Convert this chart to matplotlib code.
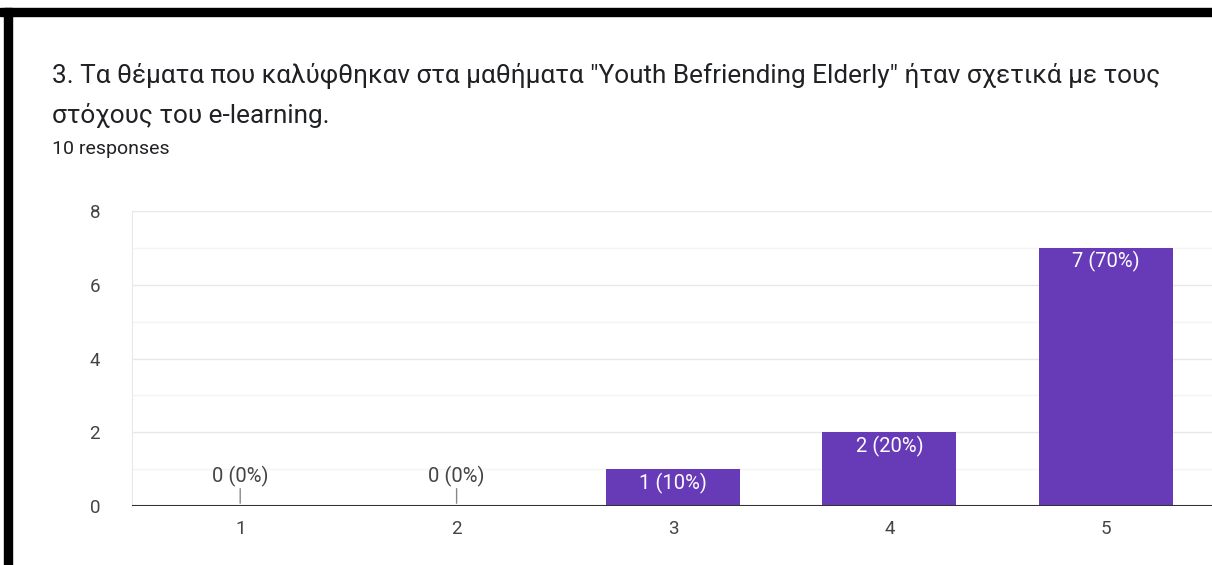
import matplotlib
matplotlib.use("Agg")
import matplotlib.pyplot as plt
from matplotlib.patches import Rectangle

# survey answers
categories = [1, 2, 3, 4, 5]
counts = [0, 0, 1, 2, 7]
total = 10
y_ticks = [0, 2, 4, 6, 8]

title_lines = ['3. Τα θέματα που καλύφθηκαν στα μαθήματα "Youth Befriending Elderly" ήταν σχετικά με τους',
               'στόχους του e-learning.']
subtitle = '10 responses'

plt.rcParams['font.family'] = ['Roboto', 'DejaVu Sans']
purple = '#673ab7'

fig = plt.figure(figsize=(12.12, 5.65), dpi=100)
ax = fig.add_axes([132/1212, 59/565, 1082/1212, 295/565])

# gridlines
for v in range(0, 9):
    ax.axhline(v, color='#e8e8e8' if v % 2 == 0 else '#f4f4f4', lw=1, zorder=0)

ax.bar(categories, counts, width=0.62, color=purple, zorder=2)

for x, c in zip(categories, counts):
    lab = '%d (%d%%)' % (c, round(100 * c / total))
    if c == 0:
        ax.annotate('', xy=(x, 0), xytext=(0, 14.5), textcoords='offset points',
                    arrowprops=dict(arrowstyle='-', color='#888888', lw=1))
        ax.annotate(lab, xy=(x, 0), xytext=(0, 21), textcoords='offset points',
                    ha='center', va='center', fontsize=14.5, color='#444444')
    else:
        ax.annotate(lab, xy=(x, c), xytext=(0, -10), textcoords='offset points',
                    ha='center', va='center', fontsize=14.5, color='white', zorder=3)

ax.axhline(0, color='#333333', lw=1.5, zorder=3)

ax.set_xlim(0.5, 5.5)
ax.set_ylim(0, 8)
ax.set_yticks(y_ticks)
ax.set_xticks(categories)
ax.tick_params(axis='both', length=0, labelsize=13.5, labelcolor='#444444')
ax.tick_params(axis='y', pad=23)
ax.tick_params(axis='x', pad=10)
for s in ['top', 'right', 'bottom']:
    ax.spines[s].set_visible(False)
ax.spines['left'].set_color('#e8e8e8')

fig.text(52/1212, 1 - 83/565, title_lines[0], fontsize=18.8, color='#202124',
         va='baseline', ha='left')
fig.text(52/1212, 1 - 123/565, title_lines[1], fontsize=18.8, color='#202124',
         va='baseline', ha='left')
fig.text(52/1212, 1 - 154/565, subtitle, fontsize=14, color='#202124',
         va='baseline', ha='left')

# black frame of the screenshot
fig.patches.append(Rectangle((0, 1 - 16/565), 1, 8/565, transform=fig.transFigure,
                             color='black', zorder=10))
fig.patches.append(Rectangle((4/1212, 0), 8/1212, 1 - 8/565, transform=fig.transFigure,
                             color='black', zorder=10))

fig.savefig('out.png', dpi=100)
